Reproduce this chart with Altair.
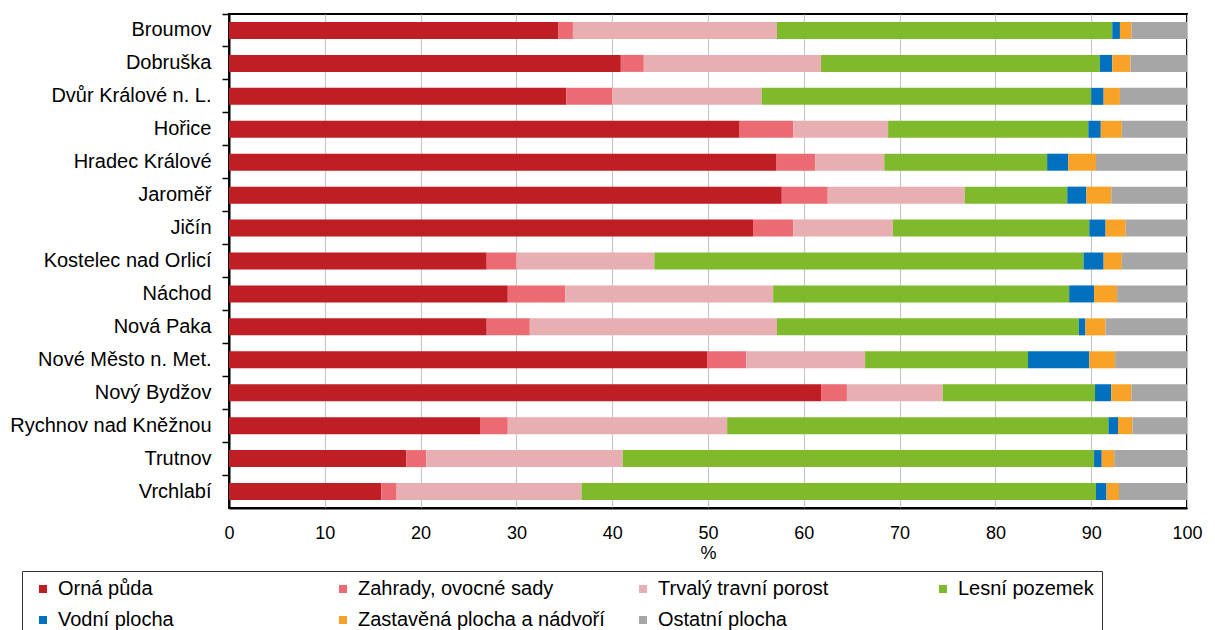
import altair as alt
import pandas as pd

cities = ["Broumov", "Dobruška", "Dvůr Králové n. L.", "Hořice", "Hradec Králové",
          "Jaroměř", "Jičín", "Kostelec nad Orlicí", "Náchod", "Nová Paka",
          "Nové Město n. Met.", "Nový Bydžov", "Rychnov nad Kněžnou", "Trutnov", "Vrchlabí"]

categories = ["Orná půda", "Zahrady, ovocné sady", "Trvalý travní porost", "Lesní pozemek",
              "Vodní plocha", "Zastavěná plocha a nádvoří", "Ostatní plocha"]

colors = ["#BE1E24", "#EC6B73", "#E8AFB2", "#7FBA2C", "#0070BF", "#F8A227", "#A6A6A6"]

orna      = [34.4, 40.9, 35.2, 53.3, 57.1, 57.7, 54.7, 26.9, 29.1, 26.9, 49.9, 61.8, 26.2, 18.5, 15.9]
zahrady   = [1.5, 2.4, 4.8, 5.6, 4.1, 4.8, 4.2, 3.1, 6.0, 4.5, 4.1, 2.7, 2.9, 2.1, 1.6]
trvaly    = [21.3, 18.5, 15.6, 9.9, 7.2, 14.3, 10.4, 14.4, 21.7, 25.8, 12.4, 10.0, 22.9, 20.5, 19.3]
lesni     = [35.0, 29.1, 34.4, 20.9, 17.0, 10.7, 20.5, 44.8, 30.9, 31.5, 17.0, 15.9, 39.8, 49.2, 53.7]
vodni     = [0.8, 1.3, 1.3, 1.3, 2.2, 2.0, 1.7, 2.1, 2.6, 0.7, 6.4, 1.7, 1.0, 0.8, 1.1]
zastavena = [1.2, 1.9, 1.7, 2.2, 2.9, 2.6, 2.1, 1.9, 2.4, 2.1, 2.7, 2.1, 1.5, 1.3, 1.3]
ostatni   = [5.8, 5.9, 7.0, 6.8, 9.5, 7.9, 6.4, 6.8, 7.3, 8.5, 7.5, 5.8, 5.7, 7.6, 7.1]

series = [orna, zahrady, trvaly, lesni, vodni, zastavena, ostatni]

rows = []
for ci, cat in enumerate(categories):
    for i, city in enumerate(cities):
        rows.append({"mesto": city, "druh": cat, "podil": series[ci][i], "poradi": ci})
df = pd.DataFrame(rows)

FONT = "Liberation Sans"

chart = alt.Chart(df).mark_bar(size=17).encode(
    y=alt.Y("mesto:N", sort=cities,
            scale=alt.Scale(paddingInner=0, paddingOuter=0),
            axis=alt.Axis(title=None, labelFontSize=20, labelColor="#000000",
                          labelFont=FONT, labelLimit=400, domainColor="#000000", domainWidth=2,
                          tickColor="#000000", tickWidth=1.5, tickSize=7,
                          labelPadding=11, bandPosition=0, grid=False)),
    x=alt.X("podil:Q", stack="zero",
            scale=alt.Scale(domain=[0, 100], nice=False),
            axis=alt.Axis(title="%", values=list(range(0, 101, 10)), labelFontSize=18,
                          labelFont=FONT, labelColor="#000000", titleFont=FONT,
                          titleFontSize=18, titleFontWeight="normal", titleColor="#000000",
                          titlePadding=2, ticks=False, labelPadding=16, labelFlush=False,
                          domainColor="#000000", domainWidth=2,
                          grid=True, gridColor="#C8C8C8", gridWidth=1.2)),
    color=alt.Color("druh:N", sort=categories,
                    scale=alt.Scale(domain=categories, range=colors),
                    legend=alt.Legend(title=None, orient="none", legendX=-207, legendY=557,
                                      direction="horizontal",
                                      columns=4, symbolType="square", symbolSize=64,
                                      symbolOffset=3, labelOffset=5,
                                      labelFontSize=20, labelFont=FONT, labelColor="#000000",
                                      columnPadding=25, rowPadding=11, gridAlign="all",
                                      padding=8, strokeColor="#333333", labelLimit=400,
                                      symbolStrokeWidth=0)),
    order=alt.Order("poradi:Q"),
).properties(
    width=958, height=494,
    autosize=alt.AutoSizeParams(type="none"),
    padding={"left": 221, "top": 6, "right": 20, "bottom": 122},
).configure_view(
    stroke="#000000", strokeWidth=2
)

chart.save("out.html", embed_options={"renderer": "svg", "actions": False})
